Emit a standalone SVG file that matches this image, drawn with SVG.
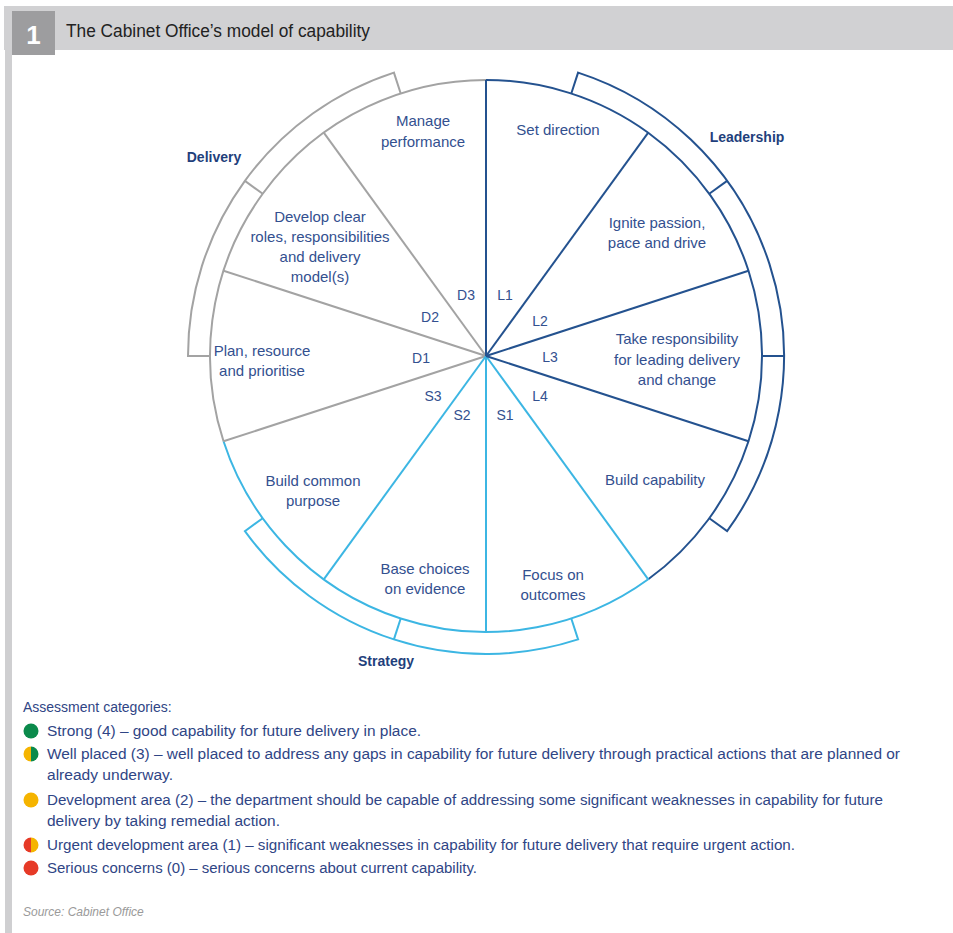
<svg xmlns="http://www.w3.org/2000/svg" width="953" height="933" viewBox="0 0 953 933">
<style>
text{font-family:"Liberation Sans",Arial,sans-serif}
.lbl{font-size:15px;fill:#33508f;text-anchor:middle}
.id{font-size:14px;fill:#33508f;text-anchor:middle}
.grp{font-size:14px;font-weight:bold;fill:#1f3f7c;text-anchor:middle}
.leg{font-size:14px;fill:#2f4585}
.dk{stroke:#24528f;stroke-width:2;fill:none}
.lt{stroke:#3cb6e3;stroke-width:2;fill:none}
.gy{stroke:#a3a3a3;stroke-width:2;fill:none}
</style>
<rect width="953" height="933" fill="#ffffff"/>
<!-- header -->
<g id="header">
<rect x="4" y="6" width="949" height="44" fill="#d1d1d3"/>
<rect x="12" y="11" width="43" height="44" fill="#9d9d9f"/>
<rect x="5" y="50" width="7" height="883" fill="#cfcfd1"/>
<text x="33.5" y="44" font-size="26" font-weight="bold" fill="#ffffff" text-anchor="middle">1</text>
<text x="66" y="37" font-size="17.5" fill="#222222" textLength="304" lengthAdjust="spacingAndGlyphs">The Cabinet Office’s model of capability</text>
</g>
<!-- bands -->
<g id="band-leadership">
<path class="dk" d="M571.29 93.51 L578.09 72.59 A298 298 0 0 1 727.09 531.16 L709.29 518.23"/>
<line class="dk" x1="709.29" y1="193.77" x2="727.09" y2="180.84"/>
<line class="dk" x1="762" y1="356" x2="784" y2="356"/>
<text class="grp" x="747" y="142">Leadership</text>
</g>
<g id="band-strategy">
<path class="lt" d="M571.29 618.49 L578.09 639.41 A298 298 0 0 1 244.91 531.16 L262.71 518.23"/>
<line class="lt" x1="400.71" y1="618.49" x2="393.91" y2="639.41"/>
<text class="grp" x="386" y="666">Strategy</text>
</g>
<g id="band-delivery">
<path class="gy" d="M210 356 L188 356 A298 298 0 0 1 393.91 72.59 L400.71 93.51"/>
<line class="gy" x1="262.71" y1="193.77" x2="244.91" y2="180.84"/>
<text class="grp" x="214" y="162">Delivery</text>
</g>
<!-- connectors: rim and spokes -->
<g id="connectors">
<path class="dk" d="M486 80 A276 276 0 0 1 648.23 579.29"/>
<path class="lt" d="M648.23 579.29 A276 276 0 0 1 223.51 441.29"/>
<path class="gy" d="M223.51 441.29 A276 276 0 0 1 486 80"/>
<line class="gy" x1="486" y1="356" x2="223.51" y2="441.29"/>
<line class="gy" x1="486" y1="356" x2="223.51" y2="270.71"/>
<line class="gy" x1="486" y1="356" x2="323.77" y2="132.71"/>
<line class="lt" x1="486" y1="356" x2="648.23" y2="579.29"/>
<line class="lt" x1="486" y1="356" x2="486" y2="632"/>
<line class="lt" x1="486" y1="356" x2="323.77" y2="579.29"/>
<line class="dk" x1="486" y1="356" x2="648.23" y2="132.71"/>
<line class="dk" x1="486" y1="356" x2="748.49" y2="270.71"/>
<line class="dk" x1="486" y1="356" x2="748.49" y2="441.29"/>
<line class="dk" x1="486" y1="356" x2="486" y2="80"/>
</g>
<!-- sectors -->
<g id="L1"><text class="lbl" x="558" y="135">Set direction</text><text class="id" x="505" y="300">L1</text></g>
<g id="L2"><text class="lbl" x="657" y="228">Ignite passion,</text><text class="lbl" x="657" y="248">pace and drive</text><text class="id" x="540" y="326">L2</text></g>
<g id="L3"><text class="lbl" x="677" y="344">Take responsibility</text><text class="lbl" x="677" y="365">for leading delivery</text><text class="lbl" x="677" y="385">and change</text><text class="id" x="550" y="362">L3</text></g>
<g id="L4"><text class="lbl" x="655" y="485">Build capability</text><text class="id" x="540" y="401">L4</text></g>
<g id="S1"><text class="lbl" x="553" y="580">Focus on</text><text class="lbl" x="553" y="600">outcomes</text><text class="id" x="505" y="420">S1</text></g>
<g id="S2"><text class="lbl" x="425" y="574">Base choices</text><text class="lbl" x="425" y="594">on evidence</text><text class="id" x="462" y="420">S2</text></g>
<g id="S3"><text class="lbl" x="313" y="486">Build common</text><text class="lbl" x="313" y="506">purpose</text><text class="id" x="433" y="401">S3</text></g>
<g id="D1"><text class="lbl" x="262" y="356">Plan, resource</text><text class="lbl" x="262" y="376">and prioritise</text><text class="id" x="421" y="363">D1</text></g>
<g id="D2"><text class="lbl" x="320" y="222">Develop clear</text><text class="lbl" x="320" y="242">roles, responsibilities</text><text class="lbl" x="320" y="262">and delivery</text><text class="lbl" x="320" y="282">model(s)</text><text class="id" x="430" y="322">D2</text></g>
<g id="D3"><text class="lbl" x="423" y="126">Manage</text><text class="lbl" x="423" y="147">performance</text><text class="id" x="466" y="300">D3</text></g>
<!-- legend -->
<g id="legend">
<text class="leg" x="23" y="712">Assessment categories:</text>
<circle cx="31" cy="731" r="7.5" fill="#0b8a4b"/>
<path d="M31 746.5 A7.5 7.5 0 0 0 31 761.5 Z" fill="#f5b400"/>
<path d="M31 746.5 A7.5 7.5 0 0 1 31 761.5 Z" fill="#0b8a4b"/>
<circle cx="31" cy="800" r="7.5" fill="#f5b400"/>
<path d="M31 837.5 A7.5 7.5 0 0 0 31 852.5 Z" fill="#e63a27"/>
<path d="M31 837.5 A7.5 7.5 0 0 1 31 852.5 Z" fill="#f5b400"/>
<circle cx="31" cy="868" r="7.5" fill="#e63a27"/>
<text class="leg" x="47" y="736" textLength="374" lengthAdjust="spacingAndGlyphs">Strong (4) – good capability for future delivery in place.</text>
<text class="leg" x="47" y="759" textLength="853" lengthAdjust="spacingAndGlyphs">Well placed (3) – well placed to address any gaps in capability for future delivery through practical actions that are planned or</text>
<text class="leg" x="47" y="780" textLength="126" lengthAdjust="spacingAndGlyphs">already underway.</text>
<text class="leg" x="47" y="805" textLength="836" lengthAdjust="spacingAndGlyphs">Development area (2) – the department should be capable of addressing some significant weaknesses in capability for future</text>
<text class="leg" x="47" y="826" textLength="233" lengthAdjust="spacingAndGlyphs">delivery by taking remedial action.</text>
<text class="leg" x="47" y="850" textLength="748" lengthAdjust="spacingAndGlyphs">Urgent development area (1) – significant weaknesses in capability for future delivery that require urgent action.</text>
<text class="leg" x="47" y="873" textLength="430" lengthAdjust="spacingAndGlyphs">Serious concerns (0) – serious concerns about current capability.</text>
<text x="23" y="916" font-size="12" font-style="italic" fill="#9a9a9a">Source: Cabinet Office</text>
</g>
</svg>
